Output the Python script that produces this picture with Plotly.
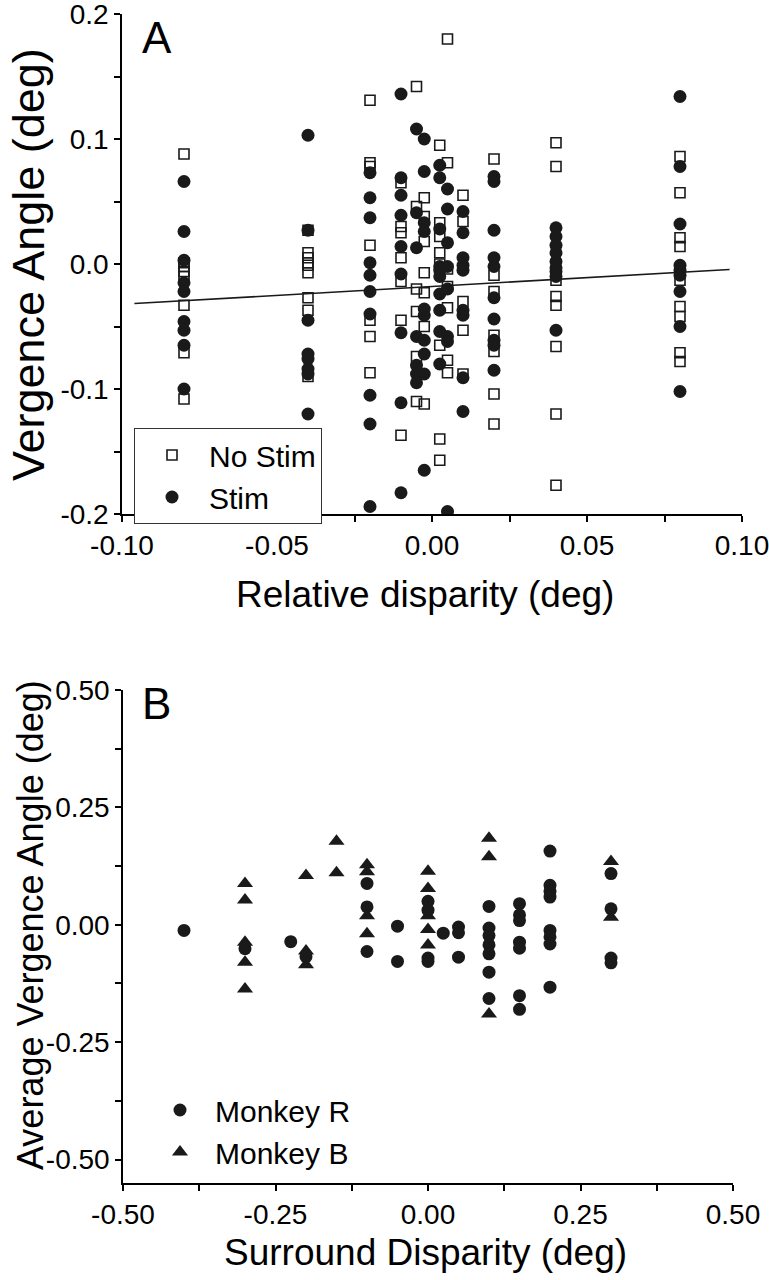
import plotly.graph_objects as go

# ---- panel A data (relative disparity vs vergence angle) ----
disp_a = [-0.08, -0.04, -0.02, -0.01, -0.005, -0.0025, 0.0025, 0.005, 0.01, 0.02, 0.04, 0.08]

nostim_vals = [
    [0.088, 0.001, -0.002, -0.006, -0.010, -0.033, -0.071, -0.108],
    [0.027, 0.009, 0.005, 0.001, -0.001, -0.007, -0.027, -0.037, -0.090],
    [0.131, 0.081, 0.078, 0.015, -0.045, -0.058, -0.087],
    [0.065, 0.030, 0.025, 0.005, -0.014, -0.045, -0.137],
    [0.142, 0.046, -0.020, -0.038, -0.074, -0.110],
    [0.053, 0.038, 0.018, -0.007, -0.023, -0.050, -0.112],
    [0.095, 0.033, 0.022, 0.009, 0.000, -0.065, -0.140, -0.157],
    [0.180, 0.081, -0.004, -0.018, -0.035, -0.077, -0.087],
    [0.055, 0.034, -0.030, -0.053, -0.088],
    [0.084, -0.009, -0.022, -0.057, -0.070, -0.104, -0.128],
    [0.097, 0.078, -0.013, -0.026, -0.033, -0.066, -0.120, -0.177],
    [0.086, 0.057, 0.021, 0.014, -0.013, -0.034, -0.042, -0.071, -0.078],
]

stim_vals = [
    [0.066, 0.026, 0.003, -0.015, -0.022, -0.046, -0.053, -0.065, -0.100],
    [0.103, 0.027, -0.045, -0.072, -0.076, -0.084, -0.088, -0.120],
    [0.073, 0.053, 0.037, 0.001, -0.009, -0.022, -0.040, -0.105, -0.128, -0.194],
    [0.136, 0.069, 0.055, 0.039, 0.014, -0.008, -0.055, -0.111, -0.183],
    [0.108, 0.041, 0.013, -0.058, -0.081, -0.088, -0.095],
    [0.100, 0.074, 0.033, 0.026, -0.036, -0.041, -0.061, -0.072, -0.088, -0.165],
    [0.079, 0.069, 0.028, -0.002, -0.005, -0.010, -0.024, -0.037, -0.054, -0.080],
    [0.060, 0.044, 0.017, -0.002, -0.020, -0.058, -0.062, -0.198],
    [0.042, 0.025, 0.005, -0.001, -0.005, -0.037, -0.041, -0.091, -0.118],
    [0.070, 0.066, 0.027, 0.005, -0.002, -0.027, -0.044, -0.061, -0.065, -0.085],
    [0.029, 0.022, 0.015, 0.009, 0.002, -0.003, -0.006, -0.010, -0.053],
    [0.134, 0.078, 0.032, -0.001, -0.005, -0.009, -0.022, -0.050, -0.102],
]

# regression line of panel A
fit_slope = 0.142
fit_intercept = -0.018
fit_x = [-0.096, 0.096]

# ---- panel B data (surround disparity vs average vergence) ----
disp_r = [-0.40, -0.30, -0.225, -0.20, -0.10, -0.05, 0.0, 0.025, 0.05, 0.10, 0.15, 0.20, 0.30]
monkey_r_vals = [
    [-0.012],
    [-0.051],
    [-0.036],
    [-0.068],
    [0.088, 0.038, -0.057],
    [-0.003, -0.078],
    [0.050, 0.031, -0.071, -0.078],
    [-0.018],
    [-0.005, -0.017, -0.069],
    [0.039, -0.007, -0.023, -0.043, -0.062, -0.101, -0.157],
    [0.045, 0.021, 0.009, -0.037, -0.050, -0.151, -0.180],
    [0.157, 0.084, 0.071, 0.059, -0.012, -0.026, -0.041, -0.133],
    [0.109, 0.034, -0.071, -0.081],
]

disp_b = [-0.30, -0.20, -0.15, -0.10, 0.0, 0.10, 0.30]
monkey_b_vals = [
    [0.088, 0.053, -0.037, -0.080, -0.137],
    [0.105, -0.056, -0.085],
    [0.178, 0.111],
    [0.128, 0.113, 0.019, -0.019],
    [0.114, 0.077, 0.019, -0.010, -0.043],
    [0.184, 0.145, -0.190],
    [0.135, 0.016],
]

# tick labels (plain hyphen minus, as in the original)
xa_ticks = [-0.10, -0.05, 0.0, 0.05, 0.10]
xa_labels = ["-0.10", "-0.05", "0.00", "0.05", "0.10"]
ya_ticks = [-0.2, -0.1, 0.0, 0.1, 0.2]
ya_labels = ["-0.2", "-0.1", "0.0", "0.1", "0.2"]
b_ticks = [-0.50, -0.25, 0.0, 0.25, 0.50]
b_labels = ["-0.50", "-0.25", "0.00", "0.25", "0.50"]


def flatten(xs, vals):
    fx, fy = [], []
    for x, ys in zip(xs, vals):
        for y in ys:
            fx.append(x)
            fy.append(y)
    return fx, fy


W, H = 769, 1280
FONT = "Liberation Sans, Arial"
ink = "#1a1a1a"

fig = go.Figure()

nx, ny = flatten(disp_a, nostim_vals)
sx, sy = flatten(disp_a, stim_vals)
fig.add_trace(go.Scatter(x=nx, y=ny, mode="markers", name="No Stim",
                         marker=dict(symbol="square-open", size=10, color=ink, line=dict(width=1.6, color=ink)),
                         xaxis="x", yaxis="y", legend="legend"))
fig.add_trace(go.Scatter(x=sx, y=sy, mode="markers", name="Stim",
                         marker=dict(symbol="circle", size=13, color=ink),
                         xaxis="x", yaxis="y", legend="legend"))
fig.add_trace(go.Scatter(x=fit_x, y=[fit_slope * v + fit_intercept for v in fit_x], mode="lines",
                         line=dict(color=ink, width=1.6), showlegend=False, xaxis="x", yaxis="y"))

rx, ry = flatten(disp_r, monkey_r_vals)
bx, by = flatten(disp_b, monkey_b_vals)
fig.add_trace(go.Scatter(x=rx, y=ry, mode="markers", name="Monkey R",
                         marker=dict(symbol="circle", size=13, color=ink),
                         xaxis="x2", yaxis="y2", legend="legend2"))
fig.add_trace(go.Scatter(x=bx, y=by, mode="markers", name="Monkey B",
                         marker=dict(symbol="triangle-up", size=14, color=ink),
                         xaxis="x2", yaxis="y2", legend="legend2"))

axis_common = dict(showline=True, linecolor="black", linewidth=1.5, ticks="outside", ticklen=6,
                   tickwidth=1.5, tickcolor="black", showgrid=False, zeroline=False, automargin=False,
                   ticklabeloverflow="allow", tickfont=dict(family=FONT, size=28, color="black"))


def px_x(p):
    return p / W


def px_y(p):
    return 1 - p / H


def minor(d):
    return dict(tick0=0, dtick=d, ticks="outside", ticklen=6, tickwidth=1.5, tickcolor="black")


fig.update_layout(
    width=W, height=H, margin=dict(l=0, r=0, t=0, b=0, autoexpand=False),
    paper_bgcolor="white", plot_bgcolor="white",
    xaxis=dict(axis_common, domain=[px_x(122), px_x(742)], range=[-0.10, 0.10], anchor="y",
               tickvals=xa_ticks, ticktext=xa_labels, minor=minor(0.025)),
    yaxis=dict(axis_common, domain=[px_y(514), px_y(14)], range=[-0.2, 0.2], anchor="x",
               tickvals=ya_ticks, ticktext=ya_labels, minor=minor(0.05)),
    xaxis2=dict(axis_common, domain=[px_x(123), px_x(733)], range=[-0.5, 0.5], anchor="y2",
                tickvals=b_ticks, ticktext=b_labels, minor=minor(0.125)),
    yaxis2=dict(axis_common, domain=[px_y(1183), px_y(690)], range=[-0.55, 0.5], anchor="x2",
                tickvals=b_ticks, ticktext=b_labels, minor=minor(0.125)),
    legend=dict(x=px_x(134), y=px_y(428), xanchor="left", yanchor="top", itemwidth=64,
                bordercolor="#333", borderwidth=1, bgcolor="white", tracegroupgap=0,
                font=dict(family=FONT, size=30, color="black")),
    legend2=dict(x=px_x(145), y=px_y(1084), xanchor="left", yanchor="top", itemwidth=60,
                 bgcolor="rgba(0,0,0,0)", font=dict(family=FONT, size=30, color="black")),
    showlegend=True,
)

annotations = [
    dict(text="A", x=px_x(157), y=px_y(37), size=44),
    dict(text="B", x=px_x(156), y=px_y(703), size=44),
    dict(text="Relative disparity (deg)", x=px_x(425), y=px_y(594), size=37),
    dict(text="Surround Disparity (deg)", x=px_x(425), y=px_y(1252), size=37),
    dict(text="Vergence Angle (deg)", x=px_x(28), y=px_y(265), angle=-90, size=45),
    dict(text="Average Vergence Angle (deg)", x=px_x(30), y=px_y(925), angle=-90, size=36),
]
ann = []
for a in annotations:
    ann.append(dict(text=a["text"], x=a["x"], y=a["y"], textangle=a.get("angle", 0),
                    xref="paper", yref="paper", showarrow=False, xanchor="center", yanchor="middle",
                    font=dict(family=FONT, size=a["size"], color="black")))
fig.update_layout(annotations=ann)

fig.write_html("out.html", config={"displayModeBar": False},
               post_script="document.body.style.margin='0';")
